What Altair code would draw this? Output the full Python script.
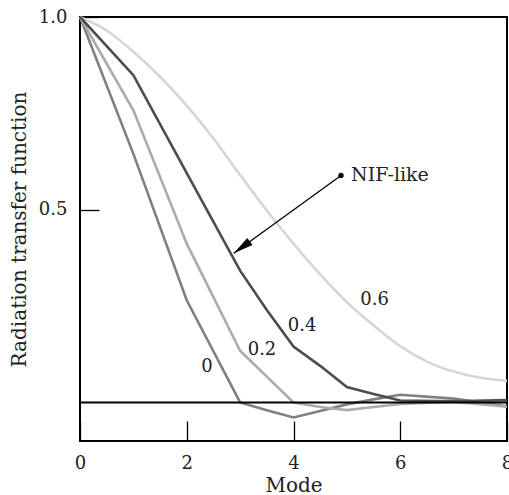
import altair as alt
import pandas as pd

# ---- data ----
modes = [0, 1, 2, 3, 3.5, 4, 4.5, 5, 5.5, 6, 7, 8]
rt_0 = [1.0, 0.645, 0.265, 0.0, -0.02, -0.039, -0.022, -0.005, 0.008, 0.02, 0.01, -0.01]
rt_02 = [1.0, 0.758, 0.412, 0.134, 0.067, 0.0, -0.012, -0.02, -0.012, -0.004, 0.002, -0.011]
rt_04 = [1.0, 0.849, 0.595, 0.342, 0.24, 0.145, 0.095, 0.04, 0.022, 0.005, 0.003, 0.006]

modes_smooth = [0, 0.5, 1, 1.5, 2, 2.5, 3, 3.5, 4, 4.5, 5, 5.5, 6, 6.5, 7, 7.5, 8]
rt_06 = [1.0, 0.965, 0.91, 0.845, 0.77, 0.685, 0.59, 0.498, 0.412, 0.332, 0.26, 0.2,
         0.146, 0.106, 0.08, 0.064, 0.056]

curve_labels = ["0", "0.2", "0.4", "0.6"]
curve_label_x = [2.38, 3.41, 4.16, 5.52]
curve_label_y = [0.093, 0.137, 0.199, 0.266]

x_ticks = [0, 2, 4, 6, 8]
y_ticks = [0.5, 1.0]

note_text = "NIF-like"
note_from = (4.89, 0.589)
note_to = (2.88, 0.387)

colors = {"0": "#808080", "0.2": "#ababab", "0.4": "#4d4d4d", "0.6": "#d6d6d6"}

FONT = "DejaVu Serif"
LFS = 18
TFS = 20
AFS = 18
TXT = "#222222"

rows = []
for name, ys in [("0", rt_0), ("0.2", rt_02), ("0.4", rt_04)]:
    for m, v in zip(modes, ys):
        rows.append({"mode": m, "rt": v, "series": name})
lin_df = pd.DataFrame(rows)
smooth_df = pd.DataFrame({"mode": modes_smooth, "rt": rt_06, "series": "0.6"})
lab_df = pd.DataFrame({"label": curve_labels, "x": curve_label_x, "y": curve_label_y})
note_df = pd.DataFrame({"x": [note_from[0]], "y": [note_from[1]],
                        "x2": [note_to[0]], "y2": [note_to[1]], "text": [note_text]})

xscale = alt.Scale(domain=[0, 8], nice=False, zero=False)
yscale = alt.Scale(domain=[-0.1, 1.0], nice=False, zero=False)

xaxis = alt.Axis(values=x_ticks, offset=-20, tickSize=20, tickWidth=1.3, tickColor="black",
                 domain=False, grid=False, labelFlush=False, labelPadding=13,
                 title="Mode", titlePadding=3, format="d")
yaxis = alt.Axis(values=y_ticks, offset=-19, tickSize=19, tickWidth=1.3, tickColor="black",
                 domain=False, grid=False, labelPadding=13, format=".1f",
                 title="Radiation transfer function", titlePadding=9)

color_scale = alt.Scale(domain=list(colors.keys()), range=list(colors.values()))

lines = alt.Chart(lin_df).mark_line(strokeWidth=2.6).encode(
    x=alt.X("mode:Q", scale=xscale, axis=xaxis),
    y=alt.Y("rt:Q", scale=yscale, axis=yaxis),
    color=alt.Color("series:N", scale=color_scale, legend=None),
    detail="series:N",
)

smooth = alt.Chart(smooth_df).mark_line(strokeWidth=2.6, interpolate="monotone").encode(
    x=alt.X("mode:Q", scale=xscale),
    y=alt.Y("rt:Q", scale=yscale),
    color=alt.Color("series:N", scale=color_scale, legend=None),
)

zero = alt.Chart(pd.DataFrame({"y": [0.0]})).mark_rule(color="black", strokeWidth=2).encode(
    y=alt.Y("y:Q", scale=yscale)
)

labels = alt.Chart(lab_df).mark_text(font=FONT, fontSize=AFS, color=TXT).encode(
    x=alt.X("x:Q", scale=xscale), y=alt.Y("y:Q", scale=yscale), text="label:N"
)

arrow_line = alt.Chart(note_df).mark_rule(color="black", strokeWidth=1.3).encode(
    x=alt.X("x:Q", scale=xscale), y=alt.Y("y:Q", scale=yscale),
    x2="x2:Q", y2="y2:Q"
)
arrow_head = alt.Chart(note_df).mark_point(
    shape="M0,0L0.22,1L-0.22,1Z", filled=True, color="black", opacity=1,
    size=1600, angle=234, strokeWidth=0
).encode(x=alt.X("x2:Q", scale=xscale), y=alt.Y("y2:Q", scale=yscale))
dot = alt.Chart(note_df).mark_circle(color="black", size=28, opacity=1).encode(
    x=alt.X("x:Q", scale=xscale), y=alt.Y("y:Q", scale=yscale)
)
note = alt.Chart(note_df).mark_text(font=FONT, fontSize=19, color=TXT, align="left",
                                    baseline="middle", dx=10).encode(
    x=alt.X("x:Q", scale=xscale), y=alt.Y("y:Q", scale=yscale), text="text:N"
)

chart = alt.layer(smooth, lines, zero, labels, arrow_line, arrow_head, dot, note).properties(
    width=427, height=424,
    autosize=alt.AutoSizeParams(type="none"),
    padding={"left": 80, "top": 17, "right": 2, "bottom": 54},
    background="white",
).configure_view(
    stroke="black", strokeWidth=2
).configure_axis(
    labelFont=FONT, labelFontSize=LFS, labelColor=TXT,
    titleFont=FONT, titleFontSize=TFS, titleColor=TXT, titleFontWeight="normal",
)

chart.save("out.html", embed_options={"renderer": "svg", "actions": False})
